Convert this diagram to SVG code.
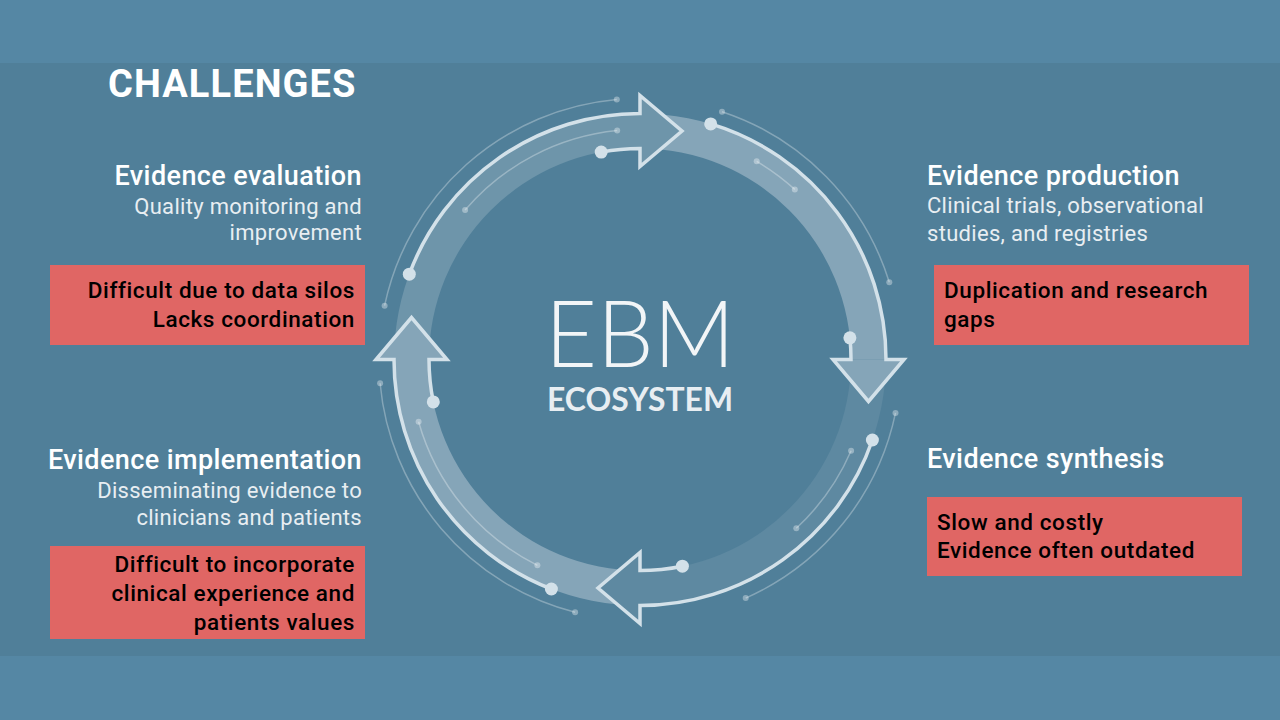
<svg xmlns="http://www.w3.org/2000/svg" width="1280" height="720" viewBox="0 0 1280 720">
<defs>
<style>
.outline{fill:none;stroke:#d3e1e9;stroke-width:3.5;stroke-linejoin:miter}
.thin{fill:none;stroke:#ffffff;stroke-opacity:0.3;stroke-width:1.5}
.dot{fill:#d3e1e9}
.tdot{fill:#ffffff;fill-opacity:0.35}
.mid{fill:#6e95aa}
.bright{fill:#85a5b8}
.faint{fill:#5e89a1}
.head{font-family:Roboto,"Liberation Sans",sans-serif;font-weight:500;font-size:27px;letter-spacing:0.4px;fill:#ffffff}
.sub{font-family:Roboto,"Liberation Sans",sans-serif;font-weight:400;font-size:22px;letter-spacing:0.3px;fill:#e8eef2}
.box{fill:#e06664}
.btxt{font-family:Roboto,"Liberation Sans",sans-serif;font-weight:500;font-size:22.5px;letter-spacing:0.6px;fill:#000000}
</style>
</defs>
<rect x="0" y="0" width="1280" height="720" fill="#5587a4"/>
<rect x="0" y="63" width="1280" height="593" fill="#507f99"/>

<g id="cycle">
<g id="bands">
<path class="mid" d="M394,359.5 A246,246 0 0 1 640,113.5 L640,95.5 L682,131 L640,166.5 L640,148.5 A211,211 0 0 0 429,359.5 Z"/>
<path class="bright" d="M640,113.5 A246,246 0 0 1 886,359.5 L904,359.5 L868.5,401.5 L833,359.5 L851,359.5 A211,211 0 0 0 640,148.5 Z"/>
<path class="faint" d="M886,359.5 A246,246 0 0 1 640,605.5 L640,623.5 L598,588 L640,552.5 L640,570.5 A211,211 0 0 0 851,359.5 Z"/>
<path class="bright" d="M640,605.5 A246,246 0 0 1 394,359.5 L376,359.5 L411.5,317.5 L447,359.5 L429,359.5 A211,211 0 0 0 640,570.5 Z"/>
<path class="mid" d="M640,95.5 L682,131 L640,166.5 Z"/>
<path class="bright" d="M904,359.5 L868.5,401.5 L833,359.5 Z"/>
<path class="faint" d="M640,623.5 L598,588 L640,552.5 Z"/>
<path class="bright" d="M376,359.5 L411.5,317.5 L447,359.5 Z"/>
</g>
<g id="thin-lines">
<path class="thin" d="M384.6,305.7 A261,261 0 0 1 616.8,99.5"/>
<path class="thin" d="M465.1,210.1 A230,230 0 0 1 617.2,130.6"/>
<path class="thin" d="M722,111.7 A261,261 0 0 1 889.3,282.3"/>
<path class="thin" d="M756.7,161.3 A230,230 0 0 1 794.8,189.4"/>
<path class="thin" d="M895.5,412.9 A261,261 0 0 1 745.7,598.1"/>
<path class="thin" d="M851.1,450.8 A230,230 0 0 1 796.3,528.3"/>
<path class="thin" d="M575.1,612.3 A261,261 0 0 1 380.1,383.2"/>
<path class="thin" d="M537.4,565.3 A230,230 0 0 1 418.6,421.7"/>
<circle class="tdot" cx="384.6" cy="305.7" r="3"/><circle class="tdot" cx="616.8" cy="99.5" r="3"/>
<circle class="tdot" cx="465.1" cy="210.1" r="3"/><circle class="tdot" cx="617.2" cy="130.6" r="3"/>
<circle class="tdot" cx="722" cy="111.7" r="3"/><circle class="tdot" cx="889.3" cy="282.3" r="3"/>
<circle class="tdot" cx="756.7" cy="161.3" r="3"/><circle class="tdot" cx="794.8" cy="189.4" r="3"/>
<circle class="tdot" cx="895.5" cy="412.9" r="3"/><circle class="tdot" cx="745.7" cy="598.1" r="3"/>
<circle class="tdot" cx="851.1" cy="450.8" r="3"/><circle class="tdot" cx="796.3" cy="528.3" r="3"/>
<circle class="tdot" cx="575.1" cy="612.3" r="3"/><circle class="tdot" cx="380.1" cy="383.2" r="3"/>
<circle class="tdot" cx="537.4" cy="565.3" r="3"/><circle class="tdot" cx="418.6" cy="421.7" r="3"/>
</g>
<g id="arrows">
<path class="outline" d="M409.3,274.2 A246,246 0 0 1 640,113.5 L640,95.5 L682,131 L640,166.5 L640,148.5 A211,211 0 0 0 601.2,152.1"/>
<path class="outline" d="M710.7,123.9 A246,246 0 0 1 886,359.5 L904,359.5 L868.5,401.5 L833,359.5 L851,359.5 A211,211 0 0 0 849.9,337.8"/>
<path class="outline" d="M872.4,440 A246,246 0 0 1 640,605.5 L640,623.5 L598,588 L640,552.5 L640,570.5 A211,211 0 0 0 682.4,566.2"/>
<path class="outline" d="M551.4,589 A246,246 0 0 1 394,359.5 L376,359.5 L411.5,317.5 L447,359.5 L429,359.5 A211,211 0 0 0 433.3,401.9"/>
<circle class="dot" cx="409.3" cy="274.2" r="6.5"/><circle class="dot" cx="601.2" cy="152.1" r="6.5"/>
<circle class="dot" cx="710.7" cy="123.9" r="6.5"/><circle class="dot" cx="849.9" cy="337.8" r="6.5"/>
<circle class="dot" cx="872.4" cy="440" r="6.5"/><circle class="dot" cx="682.4" cy="566.2" r="6.5"/>
<circle class="dot" cx="551.4" cy="589" r="6.5"/><circle class="dot" cx="433.3" cy="401.9" r="6.5"/>
</g>
</g>

<g id="center">
<text x="640" y="367" text-anchor="middle" font-family="Lato,'Open Sans',sans-serif" font-weight="300" font-size="92" fill="#f2f5f7" textLength="190" lengthAdjust="spacingAndGlyphs">EBM</text>
<text x="640" y="411" text-anchor="middle" font-family="Lato,'Open Sans',sans-serif" font-weight="700" font-size="33" fill="#e8eef2" textLength="186" lengthAdjust="spacingAndGlyphs">ECOSYSTEM</text>
</g>

<g id="title">
<text x="108" y="97" font-family="Roboto,'Liberation Sans',sans-serif" font-weight="700" font-size="38" letter-spacing="1.1" fill="#ffffff">CHALLENGES</text>
</g>

<g id="evaluation">
<text class="head" x="362" y="185" text-anchor="end">Evidence evaluation</text>
<text class="sub" x="362" y="214" text-anchor="end">Quality monitoring and</text>
<text class="sub" x="362" y="240" text-anchor="end">improvement</text>
<rect class="box" x="50" y="265" width="315" height="80"/>
<text class="btxt" x="355" y="298" text-anchor="end">Difficult due to data silos</text>
<text class="btxt" x="355" y="327" text-anchor="end">Lacks coordination</text>
</g>

<g id="implementation">
<text class="head" x="362" y="469" text-anchor="end">Evidence implementation</text>
<text class="sub" x="362" y="498" text-anchor="end">Disseminating evidence to</text>
<text class="sub" x="362" y="525" text-anchor="end">clinicians and patients</text>
<rect class="box" x="50" y="546" width="315" height="93"/>
<text class="btxt" x="355" y="572" text-anchor="end">Difficult to incorporate</text>
<text class="btxt" x="355" y="601" text-anchor="end">clinical experience and</text>
<text class="btxt" x="355" y="630" text-anchor="end">patients values</text>
</g>

<g id="production">
<text class="head" x="927" y="185">Evidence production</text>
<text class="sub" x="927" y="213">Clinical trials, observational</text>
<text class="sub" x="927" y="241">studies, and registries</text>
<rect class="box" x="934" y="265" width="315" height="80"/>
<text class="btxt" x="944" y="298">Duplication and research</text>
<text class="btxt" x="944" y="327">gaps</text>
</g>

<g id="synthesis">
<text class="head" x="927" y="468">Evidence synthesis</text>
<rect class="box" x="927" y="497" width="315" height="79"/>
<text class="btxt" x="937" y="530">Slow and costly</text>
<text class="btxt" x="937" y="558">Evidence often outdated</text>
</g>
</svg>
